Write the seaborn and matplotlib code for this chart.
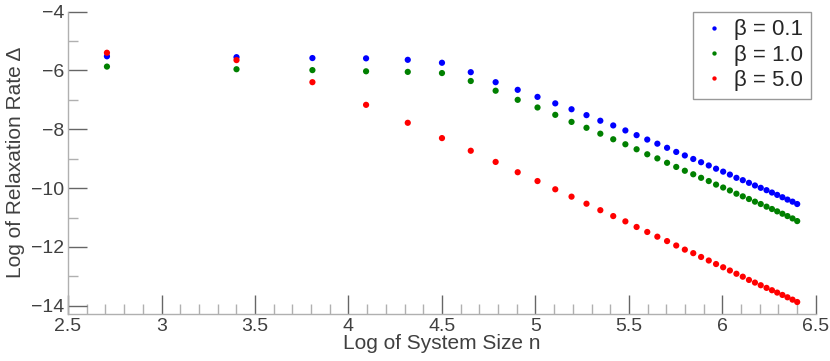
import matplotlib.pyplot as plt
import matplotlib as mpl
from matplotlib.ticker import MultipleLocator
import pandas as pd
import seaborn as sns

# log of system size (n = 15, 30, ..., 600)
log_n = [2.708, 3.401, 3.807, 4.094, 4.317, 4.500, 4.654, 4.787, 4.905, 5.011,
         5.106, 5.193, 5.273, 5.347, 5.416, 5.481, 5.541, 5.598, 5.652, 5.704,
         5.753, 5.799, 5.844, 5.886, 5.927, 5.966, 6.004, 6.040, 6.075, 6.109,
         6.142, 6.174, 6.205, 6.236, 6.265, 6.293, 6.321, 6.348, 6.375, 6.400]

beta_01 = [-5.52, -5.55, -5.58, -5.59, -5.64, -5.74, -6.06, -6.40, -6.66, -6.90,
           -7.12, -7.32, -7.52, -7.71, -7.87, -8.04, -8.20, -8.35, -8.49, -8.63,
           -8.77, -8.89, -9.01, -9.12, -9.23, -9.34, -9.44, -9.54, -9.65, -9.73,
           -9.82, -9.91, -9.99, -10.07, -10.15, -10.23, -10.31, -10.39, -10.46, -10.54]

beta_10 = [-5.87, -5.96, -5.99, -6.03, -6.05, -6.09, -6.36, -6.69, -7.00, -7.26,
           -7.51, -7.75, -7.95, -8.15, -8.34, -8.51, -8.68, -8.85, -8.99, -9.14,
           -9.28, -9.41, -9.53, -9.65, -9.76, -9.88, -9.98, -10.08, -10.19, -10.28,
           -10.37, -10.46, -10.54, -10.63, -10.71, -10.79, -10.87, -10.95, -11.03, -11.12]

beta_50 = [-5.40, -5.65, -6.40, -7.17, -7.78, -8.30, -8.73, -9.11, -9.46, -9.76,
           -10.04, -10.29, -10.53, -10.75, -10.95, -11.13, -11.32, -11.49, -11.65, -11.80,
           -11.95, -12.09, -12.21, -12.34, -12.46, -12.58, -12.69, -12.80, -12.91, -13.01,
           -13.12, -13.21, -13.30, -13.39, -13.47, -13.55, -13.63, -13.71, -13.79, -13.87]

labels = ['β = 0.1', 'β = 1.0', 'β = 5.0']
colors = ['#0000ff', '#008000', '#ff0000']

df = pd.concat([
    pd.DataFrame({'logn': log_n, 'rate': vals, 'beta': lab})
    for vals, lab in zip([beta_01, beta_10, beta_50], labels)
])

sns.set_theme(style="white")
mpl.rcParams.update({
    'font.family': ['Liberation Sans', 'DejaVu Sans'],
    'axes.edgecolor': '#b0b0b0',
    'axes.linewidth': 1.0,
    'xtick.color': '#666666',
    'ytick.color': '#666666',
    'xtick.labelcolor': '#404040',
    'ytick.labelcolor': '#404040',
    'xtick.labelsize': 14,
    'ytick.labelsize': 14,
})

fig = plt.figure(figsize=(8.3, 3.61), dpi=100)
ax = fig.add_axes([0.082, 0.130, 0.901, 0.838])

sns.scatterplot(data=df, x='logn', y='rate', hue='beta', palette=colors,
                s=20, linewidth=0, ax=ax)

ax.set_xlim(2.5, 6.5)
ax.set_ylim(-14.28, -4)
ax.xaxis.set_major_locator(MultipleLocator(0.5))
ax.xaxis.set_minor_locator(MultipleLocator(0.1))
ax.yaxis.set_major_locator(MultipleLocator(2))
ax.yaxis.set_minor_locator(MultipleLocator(1))
ax.xaxis.set_major_formatter(mpl.ticker.FuncFormatter(lambda v, p: f'{v:g}'))
ax.tick_params(which='major', direction='in', length=14, width=1, pad=3,
               bottom=True, left=True)
ax.tick_params(which='minor', direction='in', length=7, width=1, color='#b0b0b0',
               bottom=True, left=True)

ax.set_xlabel('Log of System Size n', fontsize=15, color='#404040', labelpad=-1)
ax.set_ylabel('Log of Relaxation Rate Δ', fontsize=15, color='#404040', labelpad=4)

sns.despine(ax=ax)

leg = ax.legend(loc='upper right', bbox_to_anchor=(0.993, 1.0), borderaxespad=0,
                frameon=True, fancybox=False, fontsize=16, markerscale=0.7,
                handletextpad=0.3, borderpad=0.35, labelspacing=0.2,
                handlelength=1.2)
leg.get_frame().set_edgecolor('#808080')
leg.get_frame().set_linewidth(1.0)

plt.savefig('out.png', dpi=100)
